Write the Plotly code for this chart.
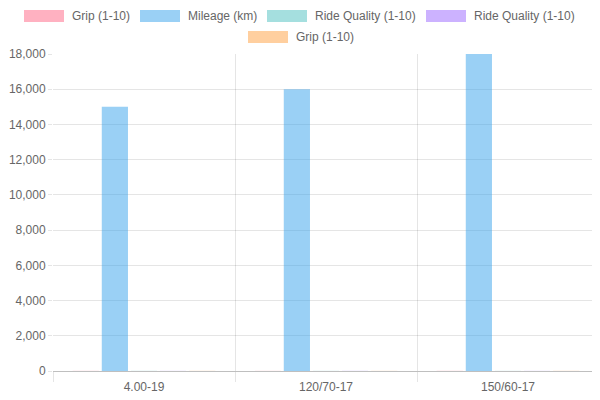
import plotly.graph_objects as go

categories = ["4.00-19", "120/70-17", "150/60-17"]
series_names = ["Grip (1-10)", "Mileage (km)", "Ride Quality (1-10)", "Ride Quality (1-10)", "Grip (1-10)"]
grip_a = [8, 7, 9]
mileage = [15000, 16000, 18000]
ride_a = [8, 7, 6]
ride_b = [7, 8, 6]
grip_b = [8, 7, 9]
series_values = [grip_a, mileage, ride_a, ride_b, grip_b]
colors = ["rgba(255,99,132,0.5)", "rgba(54,162,235,0.5)", "rgba(75,192,192,0.5)",
          "rgba(153,102,255,0.5)", "rgba(255,159,64,0.5)"]
y_ticks = list(range(0, 18001, 2000))

FONT = "Liberation Sans, Arial, Helvetica, sans-serif"

fig = go.Figure()
for name, vals, col in zip(series_names, series_values, colors):
    fig.add_trace(go.Bar(x=categories, y=vals, name=name, marker=dict(color=col, line=dict(width=0)),
                         showlegend=False))

# Chart.js style legend (boxes 40x12 + labels); positions in reference pixels
legend_rows = [
    [(0, 24), (1, 140), (2, 267), (3, 426)],
    [(4, 248)],
]
row_y = [16, 37]
PX0, PX1, PY0, PY1 = 53, 599, 54, 371
PW, PH = PX1 - PX0, PY1 - PY0
shapes = []
annotations = []
for r, row in enumerate(legend_rows):
    for idx, x0 in row:
        yc = row_y[r]
        shapes.append(dict(type="rect", xref="paper", yref="paper",
                           x0=(x0 - PX0) / PW, x1=(x0 + 40 - PX0) / PW,
                           y0=(PY1 - (yc + 6)) / PH, y1=(PY1 - (yc - 6)) / PH,
                           fillcolor=colors[idx], line=dict(width=0), layer="above"))
        annotations.append(dict(xref="paper", yref="paper", x=(x0 + 46 - PX0) / PW,
                                y=(PY1 - yc) / PH, text=series_names[idx], showarrow=False,
                                xanchor="left", yanchor="middle",
                                font=dict(family=FONT, size=12, color="#666")))

# page body has an 8px offset, compensate in margins
fig.update_layout(
    width=600, height=400,
    margin=dict(l=PX0 - 8, r=9, t=PY0 - 8, b=37, autoexpand=False),
    paper_bgcolor="white", plot_bgcolor="white",
    barmode="group", bargap=0.2, bargroupgap=0.1,
    font=dict(family=FONT, size=12, color="#666"),
    shapes=shapes, annotations=annotations,
    xaxis=dict(tickson="boundaries", showgrid=True, gridcolor="rgba(0,0,0,0.1)", gridwidth=1,
               ticks="outside", ticklen=10, tickcolor="rgba(0,0,0,0.1)", automargin=False,
               ticklabelstandoff=7,
               showline=False, tickfont=dict(size=12, color="#666")),
    yaxis=dict(range=[0, 18000], tickvals=y_ticks, tickformat=",", showgrid=True,
               gridcolor="rgba(0,0,0,0.1)", gridwidth=1, zeroline=True,
               zerolinecolor="rgba(0,0,0,0.25)", zerolinewidth=1, automargin=False,
               ticks="outside", ticklen=4, tickcolor="rgba(0,0,0,0.1)",
               showline=False, tickfont=dict(size=12, color="#666")),
)

fig.write_html("out.html")
